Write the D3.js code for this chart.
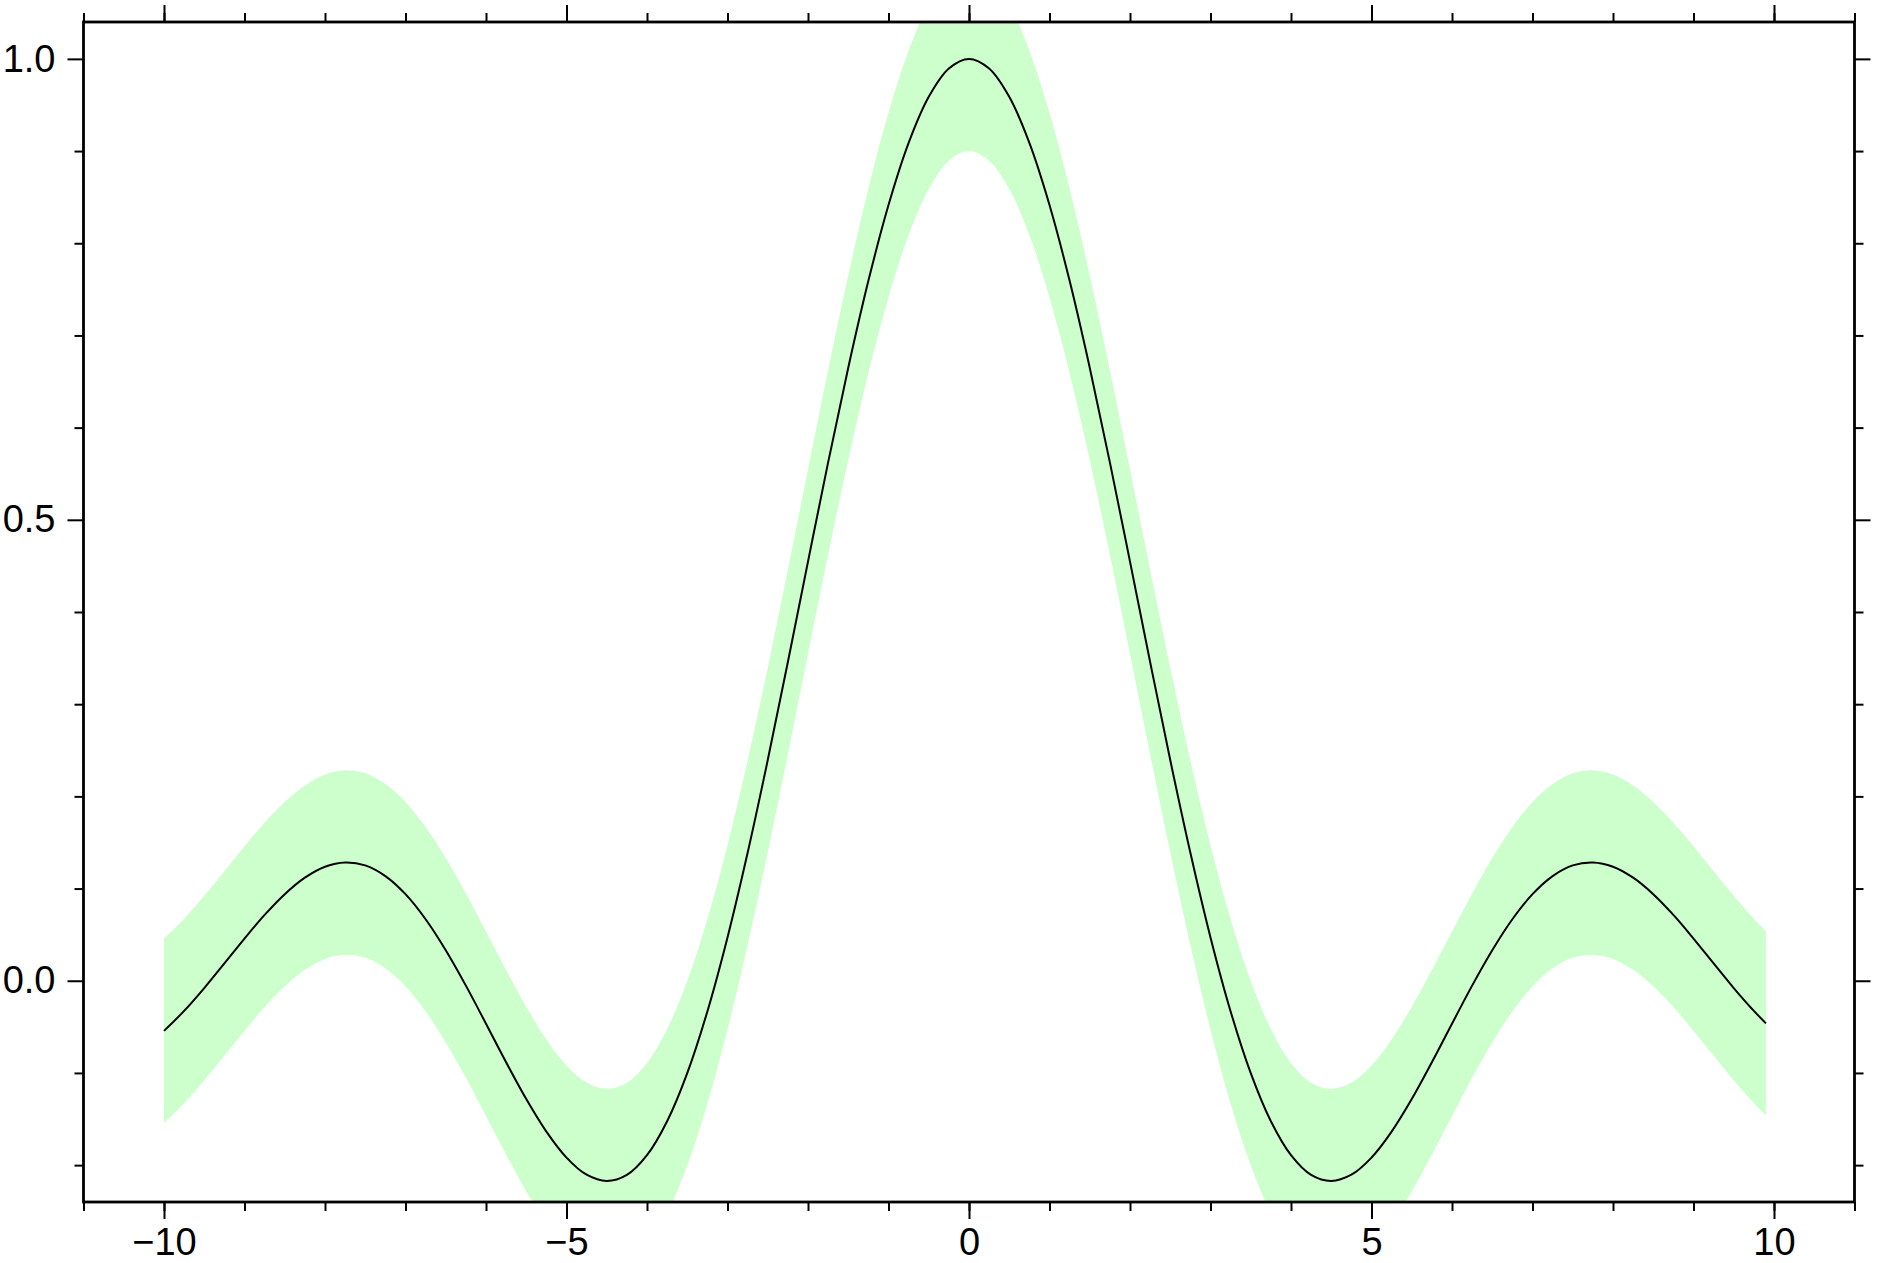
<!DOCTYPE html>
<html>
<head>
<meta charset="utf-8">
<script src="https://cdn.jsdelivr.net/npm/d3@7"></script>
<style>
  body { margin: 0; background: #fff; }
  svg text { font-family: "Liberation Sans", Arial, Helvetica, sans-serif; }
</style>
</head>
<body>
<svg id="plot"></svg>
<script>
// sample positions (step 0.25 from -10, last sample at 9.9)
var xValues = d3.range(-10, 9.8, 0.25).concat([9.9]);
// curve heights
var yValues = [
  -0.0544, -0.0327, -0.0079, 0.0188, 0.0458, 0.0714, 0.0939, 0.1118,
   0.1237, 0.1283, 0.1251, 0.1135, 0.0939, 0.0667, 0.0331, -0.0053,
  -0.0466, -0.0884, -0.1283, -0.1636, -0.1918, -0.2104, -0.2172, -0.2106,
  -0.1892, -0.1524, -0.1002, -0.0333, 0.0470, 0.1388, 0.2394, 0.3458,
   0.4547, 0.5623, 0.6650, 0.7592, 0.8415, 0.9089, 0.9589, 0.9896,
   1.0000, 0.9896, 0.9589, 0.9089, 0.8415, 0.7592, 0.6650, 0.5623,
   0.4547, 0.3458, 0.2394, 0.1388, 0.0470, -0.0333, -0.1002, -0.1524,
  -0.1892, -0.2106, -0.2172, -0.2104, -0.1918, -0.1636, -0.1283, -0.0884,
  -0.0466, -0.0053, 0.0331, 0.0667, 0.0939, 0.1135, 0.1251, 0.1283,
   0.1237, 0.1118, 0.0939, 0.0714, 0.0458, 0.0188, -0.0079, -0.0327,
  -0.0462
];
// half height of the green band
var bandHalf = 0.1;

var xMajor = [-10, -5, 0, 5, 10];
var xMinor = d3.range(-11, 11.5, 1);
var yMajor = [0.0, 0.5, 1.0];
var yMinor = [-0.2, -0.1, 0.1, 0.2, 0.3, 0.4, 0.6, 0.7, 0.8, 0.9];

var plotWidth = 1877, plotHeight = 1263;
var margin = {top: 22, right: 22.5, bottom: 61, left: 83.5},
    width = plotWidth - margin.left - margin.right,
    height = plotHeight - margin.top - margin.bottom;

var svg = d3.select("#plot")
    .attr("width", plotWidth)
    .attr("height", plotHeight);

var g = svg.append("g")
    .attr("transform", "translate(" + margin.left + "," + margin.top + ")");

var xScale = d3.scaleLinear().domain([-11, 11]).range([0, width]);
var yScale = d3.scaleLinear().domain([-0.24, 1.04]).range([height, 0]);

var data = xValues.map((x, i) => ({x: x, y: yValues[i]}));

g.append("clipPath").attr("id", "clip")
  .append("rect").attr("width", width).attr("height", height);

var area = d3.area()
    .curve(d3.curveCatmullRom)
    .x(d => xScale(d.x))
    .y0(d => yScale(d.y - bandHalf))
    .y1(d => yScale(d.y + bandHalf));

var line = d3.line()
    .curve(d3.curveCatmullRom)
    .x(d => xScale(d.x))
    .y(d => yScale(d.y));

g.append("path")
    .datum(data)
    .attr("clip-path", "url(#clip)")
    .attr("fill", "#ccffcc")
    .attr("d", area);

g.append("path")
    .datum(data)
    .attr("clip-path", "url(#clip)")
    .attr("fill", "none")
    .attr("stroke", "#000")
    .attr("stroke-width", 2)
    .attr("stroke-linejoin", "round")
    .attr("d", line);

var fmtMinus = d => (d < 0 ? "\u2212" : "") + Math.abs(d);

function addAxis(axis, transform) {
  var a = g.append("g").attr("transform", transform).call(axis);
  a.select(".domain").remove();
  a.selectAll(".tick line").attr("stroke", "#000").attr("stroke-width", 2);
  a.selectAll("text").attr("font-size", 38).attr("fill", "#000")
    .attr("font-family", "'Liberation Sans', Arial, sans-serif");
  return a;
}

// minor ticks
addAxis(d3.axisBottom(xScale).tickValues(xMinor).tickSize(9).tickFormat(""), "translate(0," + height + ")");
addAxis(d3.axisTop(xScale).tickValues(xMinor).tickSize(9).tickFormat(""), "translate(0,0)");
addAxis(d3.axisLeft(yScale).tickValues(yMinor).tickSize(9).tickFormat(""), "translate(0,0)");
addAxis(d3.axisRight(yScale).tickValues(yMinor).tickSize(9).tickFormat(""), "translate(" + width + ",0)");

// major ticks
addAxis(d3.axisBottom(xScale).tickValues(xMajor).tickSize(17).tickPadding(9).tickFormat(fmtMinus), "translate(0," + height + ")");
addAxis(d3.axisTop(xScale).tickValues(xMajor).tickSize(17).tickFormat(""), "translate(0,0)");
addAxis(d3.axisLeft(yScale).tickValues(yMajor).tickSize(16).tickPadding(12).tickFormat(d3.format(".1f")), "translate(0,0)");
addAxis(d3.axisRight(yScale).tickValues(yMajor).tickSize(16).tickFormat(""), "translate(" + width + ",0)");

// frame
g.append("rect")
    .attr("width", width)
    .attr("height", height)
    .attr("fill", "none")
    .attr("stroke", "#000")
    .attr("stroke-width", 2.8);
</script>
</body>
</html>
